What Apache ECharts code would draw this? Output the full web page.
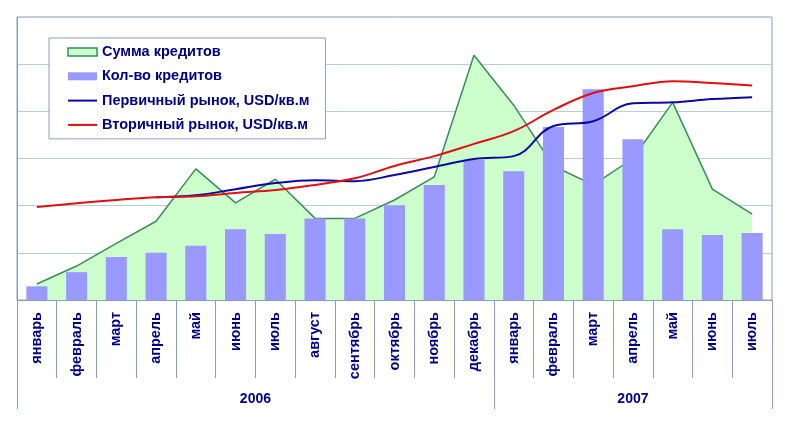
<!DOCTYPE html>
<html>
<head>
<meta charset="utf-8">
<script src="https://cdn.jsdelivr.net/npm/echarts@6/dist/echarts.min.js"></script>
<style>
  html, body { margin: 0; padding: 0; background: #fff; }
  #chart { width: 800px; height: 437px; }
</style>
</head>
<body>
<div id="chart"></div>
<script>
var months = ['январь', 'февраль', 'март', 'апрель', 'май', 'июнь', 'июль', 'август', 'сентябрь', 'октябрь', 'ноябрь', 'декабрь',
  'январь', 'февраль', 'март', 'апрель', 'май', 'июнь', 'июль'];
var years = ['2006', '2007'];
var yearSpans = [12, 7];

// values (no axis scale shown, 1 unit = 1 gridline)
var loanSum = [0.34, 0.72, 1.20, 1.67, 2.78, 2.06, 2.56, 1.73, 1.73, 2.12, 2.61, 5.19, 4.13, 2.84, 2.44, 3.00, 4.19, 2.35, 1.82];
var loanCount = [0.29, 0.59, 0.91, 1.00, 1.15, 1.50, 1.40, 1.73, 1.73, 2.01, 2.44, 2.97, 2.73, 3.67, 4.47, 3.41, 1.50, 1.38, 1.42];
var primary = [null, null, null, 2.18, 2.22, 2.35, 2.48, 2.54, 2.52, 2.65, 2.82, 2.99, 3.05, 3.69, 3.79, 4.17, 4.19, 4.26, 4.30];
var secondary = [1.97, 2.05, 2.12, 2.18, 2.20, 2.27, 2.33, 2.44, 2.58, 2.84, 3.05, 3.31, 3.58, 4.03, 4.39, 4.53, 4.64, 4.60, 4.55];

var names = ['Сумма кредитов', 'Кол-во кредитов', 'Первичный рынок, USD/кв.м', 'Вторичный рынок, USD/кв.м'];

// year axis: half-month steps so labels can sit in the middle of each year
var yearData = [];
for (var i = 0; i <= months.length * 2; i++) yearData.push('');
var yearTicks = [0];
var acc = 0;
yearSpans.forEach(function (s, k) {
  yearData[acc * 2 + s] = years[k];
  acc += s;
  yearTicks.push(acc * 2);
});

var font = 'Liberation Sans, Arial, sans-serif';
var axisCol = '#8A9EC0';
var textCol = '#000080';
var noDot = { color: 'rgba(0,0,0,0)', borderColor: 'rgba(0,0,0,0)', borderWidth: 0 };

var myChart = echarts.init(document.getElementById('chart'));
var option = {
  animation: false,
  backgroundColor: '#fff',
  grid: {
    left: 17, right: 28, top: 17, bottom: 137,
    show: true, borderColor: axisCol, borderWidth: 1
  },
  legend: {
    orient: 'vertical',
    left: 49, top: 38,
    backgroundColor: '#fff',
    borderColor: axisCol,
    borderWidth: 1,
    padding: [6, 16, 6, 18],
    itemWidth: 29,
    itemHeight: 8,
    itemGap: 8.3,
    textStyle: { color: textCol, fontFamily: font, fontWeight: 'bold', fontSize: 14.5, lineHeight: 16 },
    data: [
      { name: names[0], icon: 'rect', itemStyle: { color: '#CCFFCC', borderColor: '#3A8C5C', borderWidth: 1.5 } },
      { name: names[1], icon: 'rect' },
      { name: names[2], itemStyle: noDot },
      { name: names[3], itemStyle: noDot }
    ]
  },
  xAxis: [{
    type: 'category',
    data: months,
    position: 'bottom',
    axisLine: { lineStyle: { color: axisCol } },
    axisTick: { show: true, interval: 0, length: 78, lineStyle: { color: axisCol } },
    axisLabel: {
      interval: 0, rotate: 90, margin: 12,
      color: textCol, fontFamily: font, fontWeight: 'bold', fontSize: 14.5
    }
  }, {
    type: 'category',
    data: yearData,
    position: 'bottom',
    boundaryGap: false,
    axisLine: { show: false },
    axisTick: {
      show: true,
      length: 109,
      lineStyle: { color: axisCol },
      interval: function (idx) { return yearTicks.indexOf(idx) >= 0; }
    },
    axisLabel: {
      margin: 92,
      color: textCol, fontFamily: font, fontWeight: 'bold', fontSize: 14,
      interval: function (idx, val) { return val !== ''; }
    }
  }],
  yAxis: {
    type: 'value',
    min: 0, max: 6, interval: 1,
    axisLabel: { show: false },
    axisTick: { show: false },
    axisLine: { show: true, lineStyle: { color: axisCol } },
    splitLine: { lineStyle: { color: '#B9CBDF' } }
  },
  series: [{
    name: names[0],
    type: 'line',
    data: loanSum,
    symbol: 'none',
    lineStyle: { color: '#3A8C5C', width: 1.5 },
    itemStyle: { color: '#CCFFCC' },
    areaStyle: { color: '#CCFFCC', opacity: 1 },
    z: 1
  }, {
    name: names[1],
    type: 'bar',
    data: loanCount,
    barWidth: '53%',
    itemStyle: { color: '#9999FF' },
    z: 2
  }, {
    name: names[2],
    type: 'line',
    data: primary,
    symbol: 'none',
    smooth: 0.4,
    lineStyle: { color: '#0A0AA0', width: 2 },
    itemStyle: { color: '#0A0AA0' },
    z: 3
  }, {
    name: names[3],
    type: 'line',
    data: secondary,
    symbol: 'none',
    smooth: 0.4,
    lineStyle: { color: '#E01010', width: 2 },
    itemStyle: { color: '#E01010' },
    z: 3
  }]
};
myChart.setOption(option);
</script>
</body>
</html>
